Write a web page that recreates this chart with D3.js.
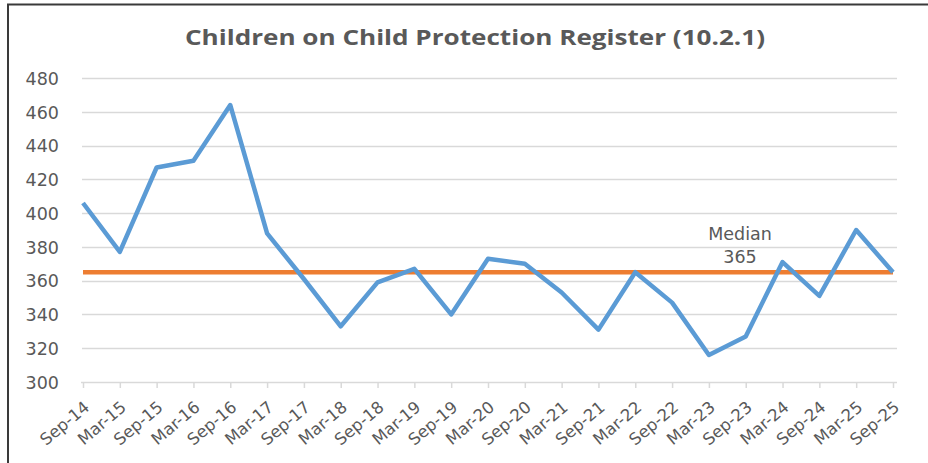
<!DOCTYPE html>
<html>
<head>
<meta charset="utf-8">
<script src="https://cdn.jsdelivr.net/npm/d3@7"></script>
<style>
  html, body { margin: 0; padding: 0; background: #fff; }
  svg { display: block; }
</style>
</head>
<body>
<svg id="chart" width="928" height="463"></svg>
<script>
const categories = ["Sep-14","Mar-15","Sep-15","Mar-16","Sep-16","Mar-17","Sep-17","Mar-18","Sep-18","Mar-19","Sep-19","Mar-20","Sep-20","Mar-21","Sep-21","Mar-22","Sep-22","Mar-23","Sep-23","Mar-24","Sep-24","Mar-25","Sep-25"];
const children = [406, 377, 427, 431, 464, 388, 361, 333, 359, 367, 340, 373, 370, 353, 331, 365, 347, 316, 327, 371, 351, 390, 365];
const medianValue = 365;
const yTicks = [300, 320, 340, 360, 380, 400, 420, 440, 460, 480];
const title = "Children on Child Protection Register (10.2.1)";

const svg = d3.select("#chart");
const grey = "#595959";

// frame lines (top and left, as in the cropped reference)
svg.append("line").attr("x1", 7).attr("x2", 928).attr("y1", 4.5).attr("y2", 4.5)
  .attr("stroke", "#3a3a3a").attr("stroke-width", 2);
svg.append("line").attr("x1", 8).attr("x2", 8).attr("y1", 4).attr("y2", 463)
  .attr("stroke", "#3a3a3a").attr("stroke-width", 2);

const x = d3.scalePoint().domain(categories).range([83, 893]);
const y = d3.scaleLinear().domain([300, 480]).range([382, 78]);

// gridlines
const grid = svg.append("g");
grid.selectAll("line").data(yTicks.filter(d => d > 300)).join("line")
  .attr("x1", 82).attr("x2", 897)
  .attr("y1", d => Math.round(y(d)) + 0.5).attr("y2", d => Math.round(y(d)) + 0.5)
  .attr("stroke", "#d9d9d9").attr("stroke-width", 1.3);

// y axis labels
const yAxis = d3.axisLeft(y).tickValues(yTicks).tickSize(0).tickPadding(0);
const yg = svg.append("g").attr("transform", "translate(59,0)").call(yAxis);
yg.select(".domain").remove();
yg.selectAll("text").attr("fill", grey).attr("font-family", "DejaVu Sans")
  .attr("font-size", 17.5).attr("dy", "0.36em");

// x axis
const xAxis = d3.axisBottom(x).tickSize(6).tickSizeOuter(0);
const xg = svg.append("g").attr("transform", "translate(0,382)").call(xAxis);
xg.select(".domain").attr("d", "M81,0.5H897").attr("stroke", "#d9d9d9").attr("stroke-width", 1.5);
xg.selectAll(".tick line").attr("stroke", "#d9d9d9").attr("stroke-width", 1.5);
xg.selectAll("text")
  .attr("fill", grey).attr("font-family", "DejaVu Sans").attr("font-size", 16.5)
  .attr("text-anchor", "end")
  .attr("dy", null).attr("y", 0)
  .attr("transform", "translate(7,27) rotate(-40)");

// median line
svg.append("line")
  .attr("x1", x(categories[0])).attr("x2", x(categories[categories.length - 1]))
  .attr("y1", y(medianValue)).attr("y2", y(medianValue))
  .attr("stroke", "#ed7d31").attr("stroke-width", 4.5);

// data line
const line = d3.line().x((d, i) => x(categories[i])).y(d => y(d));
svg.append("path").datum(children)
  .attr("d", line).attr("fill", "none")
  .attr("stroke", "#5b9bd5").attr("stroke-width", 4.5)
  .attr("stroke-linejoin", "round").attr("stroke-linecap", "butt");

// median label
const ml = svg.append("text").attr("x", 740).attr("fill", grey)
  .attr("font-family", "DejaVu Sans").attr("font-size", 17.5).attr("text-anchor", "middle");
ml.append("tspan").attr("x", 740).attr("y", 240).text("Median");
ml.append("tspan").attr("x", 740).attr("y", 263).text(medianValue);

// title
svg.append("text").attr("x", 475).attr("y", 45).attr("text-anchor", "middle")
  .attr("fill", grey).attr("font-family", "Open Sans").attr("font-weight", "bold")
  .attr("font-size", 22).attr("textLength", 580).attr("lengthAdjust", "spacingAndGlyphs")
  .text(title);
</script>
</body>
</html>
